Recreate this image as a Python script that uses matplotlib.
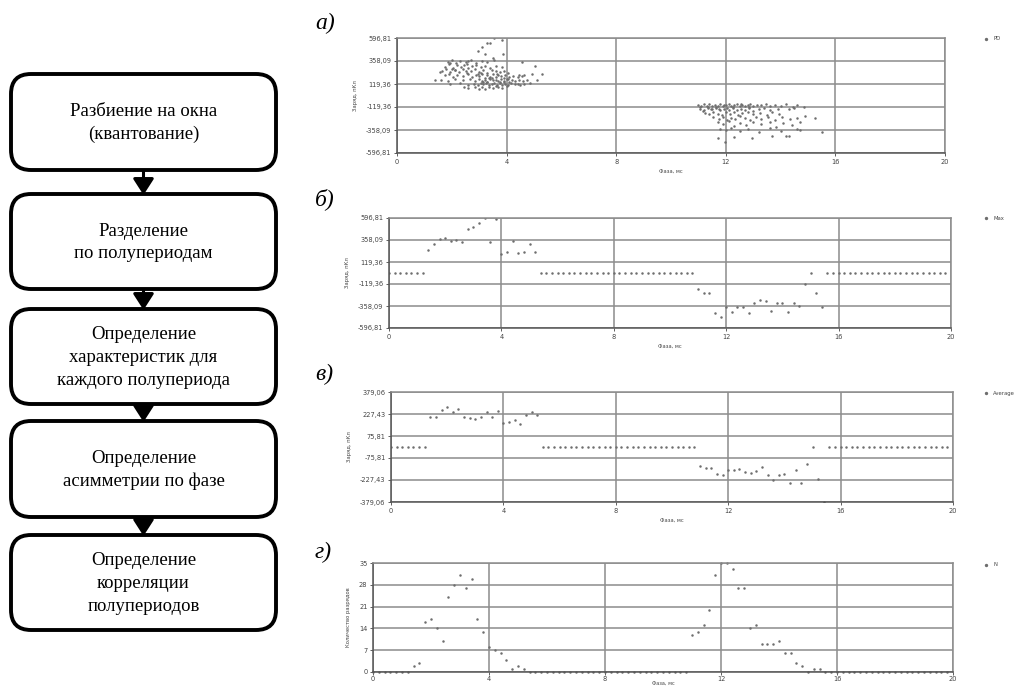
import matplotlib
matplotlib.use("Agg")
import matplotlib.pyplot as plt
from matplotlib.patches import FancyBboxPatch
from matplotlib.ticker import FixedLocator, FixedFormatter

W, H = 1024, 687

# ---------------- data ----------------
step_labels = [
    "Разбиение на окна\n(квантование)",
    "Разделение\nпо полупериодам",
    "Определение\nхарактеристик для\nкаждого полупериода",
    "Определение\nасимметрии по фазе",
    "Определение\nкорреляции\nполупериодов",
]

x_ticks = [0, 4, 8, 12, 16, 20]
x_ticklabels = ["0", "4", "8", "12", "16", "20"]

charge_ticks = [596.81, 358.09, 119.36, -119.36, -358.09, -596.81]
charge_ticklabels = ["596,81", "358,09", "119,36", "-119,36", "-358,09", "-596,81"]
avg_ticks = [379.06, 227.43, 75.81, -75.81, -227.43, -379.06]
avg_ticklabels = ["379,06", "227,43", "75,81", "-75,81", "-227,43", "-379,06"]
n_ticks = [0, 7, 14, 21, 28, 35]
n_ticklabels = ["0", "7", "14", "21", "28", "35"]

# (а) raw PD cloud: positive half-period
pd_pos = [
    (3.54, 597), (3.83, 576), (3.30, 545), (3.40, 548), (3.10, 503), (2.96, 462),
    (3.20, 430), (3.87, 430), (3.50, 389), (4.56, 347), (5.04, 306), (5.30, 223),
    (4.93, 223), (4.45, 210), (4.62, 210), (5.10, 160), (1.39, 160), (1.57, 244),
    (1.85, 352), (2.00, 371), (2.15, 340), (2.30, 362), (2.50, 347), (2.70, 368),
    (2.90, 336), (3.10, 355), (3.30, 344), (3.55, 372), (1.95, 334), (2.60, 358),
    (1.75, 300), (1.90, 322), (2.05, 290), (2.20, 312), (2.35, 296), (2.45, 318),
    (2.60, 284), (2.75, 305), (2.90, 318), (3.05, 292), (3.20, 310), (3.40, 288),
    (3.60, 305), (3.85, 296), (2.10, 268), (2.55, 326),
    (1.65, 255), (1.80, 270), (1.95, 240), (2.10, 262), (2.25, 248), (2.40, 274),
    (2.55, 236), (2.70, 258), (2.85, 270), (3.00, 245), (3.15, 262), (3.30, 238),
    (3.45, 266), (3.60, 250), (3.75, 240), (3.90, 258), (4.05, 236), (2.00, 278),
    (2.50, 252), (3.05, 232),
    (1.75, 210), (1.90, 222), (2.05, 196), (2.20, 215), (2.40, 204), (2.60, 226),
    (2.75, 190), (2.90, 214), (3.00, 200), (3.10, 224), (3.20, 186), (3.30, 210),
    (3.40, 196), (3.50, 220), (3.60, 188), (3.70, 208), (3.80, 198), (3.95, 216),
    (4.10, 194), (4.25, 206), (4.40, 188), (4.55, 200), (2.95, 228), (3.35, 182),
    (3.65, 226), (3.90, 184),
    (1.60, 165), (1.85, 150), (2.10, 172), (2.40, 158), (2.65, 168), (2.85, 146),
    (3.00, 176), (3.10, 154), (3.20, 166), (3.30, 144), (3.40, 172), (3.50, 156),
    (3.60, 162), (3.70, 148), (3.80, 174), (3.90, 152), (4.00, 168), (4.10, 142),
    (4.20, 160), (4.30, 150), (4.45, 166), (4.60, 146), (4.75, 158), (3.15, 140),
    (3.45, 178), (3.75, 142), (4.05, 176),
    (1.95, 118), (2.30, 130), (2.60, 112), (2.80, 124), (2.95, 106), (3.05, 132),
    (3.15, 116), (3.25, 126), (3.35, 104), (3.45, 120), (3.55, 134), (3.65, 110),
    (3.75, 128), (3.85, 114), (3.95, 122), (4.05, 108), (4.15, 130), (4.30, 116),
    (4.40, 124), (4.50, 110), (4.65, 120), (4.85, 126), (3.30, 136), (3.60, 100),
    (3.90, 138),
    (2.45, 86), (2.60, 78), (2.85, 92), (3.00, 72), (3.10, 84), (3.20, 68),
    (3.35, 90), (3.50, 76), (3.70, 88), (3.85, 80), (4.00, 94),
]

# (а) raw PD cloud: negative half-period
pd_neg = [
    (11.00, -98), (11.10, -110), (11.20, -92), (11.30, -104), (11.40, -88),
    (11.50, -112), (11.60, -96), (11.70, -106), (11.80, -90), (11.90, -114),
    (12.00, -100), (12.10, -92), (12.20, -108), (12.30, -96), (12.40, -88),
    (12.50, -104), (12.60, -94), (12.70, -112), (12.80, -98), (12.90, -90),
    (13.00, -106), (13.15, -94), (13.30, -102), (13.45, -90), (13.60, -110),
    (13.80, -96), (14.00, -104), (14.20, -92), (14.45, -118), (14.60, -100),
    (14.85, -116), (11.05, -118), (11.35, -116), (11.65, -120), (11.95, -96),
    (12.25, -118), (12.55, -86), (12.85, -116),
    (11.05, -135), (11.20, -150), (11.35, -128), (11.50, -145), (11.65, -132),
    (11.80, -155), (11.95, -138), (12.10, -148), (12.25, -126), (12.40, -152),
    (12.55, -136), (12.70, -146), (12.85, -130), (13.00, -156), (13.20, -140),
    (13.40, -128), (13.60, -150), (13.90, -136), (14.30, -144), (14.50, -132),
    (11.15, -160), (11.45, -138), (11.75, -142), (12.05, -130),
    (11.25, -178), (11.40, -195), (11.55, -170), (11.70, -188), (11.85, -202),
    (12.00, -175), (12.15, -192), (12.30, -168), (12.45, -198), (12.60, -182),
    (12.80, -172), (13.00, -196), (13.25, -180), (13.50, -205), (13.70, -176),
    (13.95, -190),
    (11.55, -225), (11.75, -240), (11.90, -218), (12.05, -250), (12.20, -230),
    (12.35, -245), (12.50, -215), (12.70, -238), (12.90, -255), (13.10, -222),
    (13.30, -242), (13.55, -228), (13.80, -252), (14.05, -220), (14.35, -246),
    (14.60, -232), (14.90, -214),
    (11.70, -275), (11.90, -300), (12.10, -268), (12.30, -318), (12.50, -290),
    (12.75, -310), (13.00, -280), (13.30, -298), (13.60, -270), (13.85, -322),
    (14.10, -288), (14.40, -304), (14.70, -276),
    (11.80, -345), (12.00, -362), (12.20, -338), (12.50, -370), (12.80, -350),
    (13.20, -375), (13.60, -342), (14.00, -366), (14.60, -348),
    (15.26, -234), (15.50, -380), (11.70, -442), (11.97, -483), (12.30, -431),
    (12.96, -441), (13.70, -421), (14.20, -421), (14.30, -418), (14.70, -358),
]

# window centres: 100 windows of 0.2 ms
phase = [round(0.2 * i, 1) for i in range(100)]

max_vals = (
    [0] * 7
    + [250, 315, 369, 383, 351, 362, 340, 474, 499, 542, 597, 340, 583, 206,
       228, 351, 217, 223, 315, 223]
    + [0] * 28
    + [-174, -213, -213, -437, -477, -365, -423, -372, -365, -430, -325, -293,
       -304, -412, -325, -325, -423, -325, -358, -122, 0, -220, -369]
    + [0] * 22
)

avg_vals = (
    [0] * 7
    + [207, 207, 253, 278, 240, 262, 209, 198, 191, 209, 238, 207, 248, 164,
       175, 186, 157, 221, 238, 221]
    + [0] * 28
    + [-133, -143, -147, -186, -193, -161, -157, -152, -175, -178, -163, -140,
       -190, -230, -195, -186, -248, -159, -248, -117, 0, -219, -377]
    + [0] * 22
)

n_vals = (
    [0] * 7
    + [2, 3, 16, 17, 14, 10, 24, 28, 31, 27, 30, 17, 13, 8, 7, 6, 4, 1, 2, 1]
    + [0] * 28
    + [12, 13, 15, 20, 31, 35, 35, 33, 27, 27, 14, 15, 9, 9, 9, 10, 6, 6, 3, 2,
       0, 1, 1]
    + [0] * 22
)

# ---------------- figure ----------------
fig = plt.figure(figsize=(W / 100, H / 100), dpi=100)
bg = fig.add_axes([0, 0, 1, 1])
bg.set_xlim(0, W)
bg.set_ylim(H, 0)
bg.axis("off")

serif = ["Liberation Serif", "DejaVu Serif"]

# flowchart
boxes = [(74, 170), (194, 289), (309, 404), (421, 517), (535, 630)]
bx0, bx1 = 11, 276
cx = (bx0 + bx1) / 2
for (t, b), lab in zip(boxes, step_labels):
    bg.add_patch(FancyBboxPatch((bx0, t), bx1 - bx0, b - t,
                                boxstyle="round,pad=0,rounding_size=20",
                                lw=2.8, ec="black", fc="white"))
    bg.text(cx, (t + b) / 2 + 1, lab, ha="center", va="center",
            family=serif, fontsize=13.5, linespacing=1.45)
for i in range(len(boxes) - 1):
    bg.annotate("", xy=(cx, boxes[i + 1][0] + 1), xytext=(cx, boxes[i][1] + 1),
                arrowprops=dict(arrowstyle="-|>,head_length=0.7,head_width=0.45",
                                lw=2.2, color="black", shrinkA=0, shrinkB=0,
                                mutation_scale=14))


def make_axes(left, right, top, bottom):
    return fig.add_axes([left / W, 1 - bottom / H, (right - left) / W, (bottom - top) / H])


grid_c = "#8c8c8c"
dot_c = "#6e6e6e"
tick_fs = 4.8
lab_c = "#444444"


def style(ax, yticks, yticklabels, ylim, ylabel, xlabel=True):
    ax.set_xlim(0, 20)
    ax.set_ylim(*ylim)
    ax.xaxis.set_major_locator(FixedLocator(x_ticks))
    ax.xaxis.set_major_formatter(FixedFormatter(x_ticklabels))
    ax.yaxis.set_major_locator(FixedLocator(yticks))
    ax.yaxis.set_major_formatter(FixedFormatter(yticklabels))
    ax.grid(True, color=grid_c, lw=1.1)
    ax.set_axisbelow(True)
    for s in ax.spines.values():
        s.set_color(grid_c)
        s.set_linewidth(1.1)
    ax.spines["left"].set_color("#555555")
    ax.spines["bottom"].set_color("#555555")
    ax.tick_params(labelsize=tick_fs, colors=lab_c, length=2, width=0.6, pad=2)
    ax.set_ylabel(ylabel, fontsize=3.8, color=lab_c, labelpad=6)
    if xlabel:
        ax.set_xlabel("Фаза, мс", fontsize=3.8, color=lab_c, labelpad=3)


# (а)
ax_a = make_axes(397, 945, 38, 153)
ax_a.scatter([p[0] for p in pd_pos], [p[1] for p in pd_pos], s=3.2, color=dot_c, lw=0)
ax_a.scatter([p[0] for p in pd_neg], [p[1] for p in pd_neg], s=3.2, color=dot_c, lw=0)
style(ax_a, charge_ticks, charge_ticklabels, (-596.81, 596.81), "Заряд, пКл")

# (б)
ax_b = make_axes(389, 951, 218, 328)
ax_b.scatter(phase, max_vals, s=3.2, color=dot_c, lw=0)
style(ax_b, charge_ticks, charge_ticklabels, (-596.81, 596.81), "Заряд, пКл")

# (в)
ax_c = make_axes(391, 953, 392, 502)
ax_c.scatter(phase, avg_vals, s=3.2, color=dot_c, lw=0)
style(ax_c, avg_ticks, avg_ticklabels, (-379.06, 379.06), "Заряд, пКл")

# (г)
ax_d = make_axes(373, 953, 563, 672)
ax_d.scatter(phase, n_vals, s=3.2, color=dot_c, lw=0, clip_on=False)
style(ax_d, n_ticks, n_ticklabels, (0, 35), "Количество разрядов", xlabel=False)
ax_d.tick_params(axis="x", pad=1)
bg.text(663, 683.5, "Фаза, мс", fontsize=3.6, color=lab_c, ha="center", va="center")

# panel letters and legends
letters = [("а)", 23), ("б)", 199), ("в)", 374), ("г)", 552)]
for txt, y in letters:
    bg.text(315, y, txt, family=serif, style="italic", fontsize=17,
            ha="left", va="center")

legends = [("PD", 39), ("Max", 218), ("Average", 393), ("N", 565)]
for txt, y in legends:
    bg.plot([986], [y], "o", ms=1.4, color=dot_c)
    bg.text(993, y, txt, fontsize=3.8, color=lab_c, ha="left", va="center")

fig.savefig("out.png", dpi=100)
